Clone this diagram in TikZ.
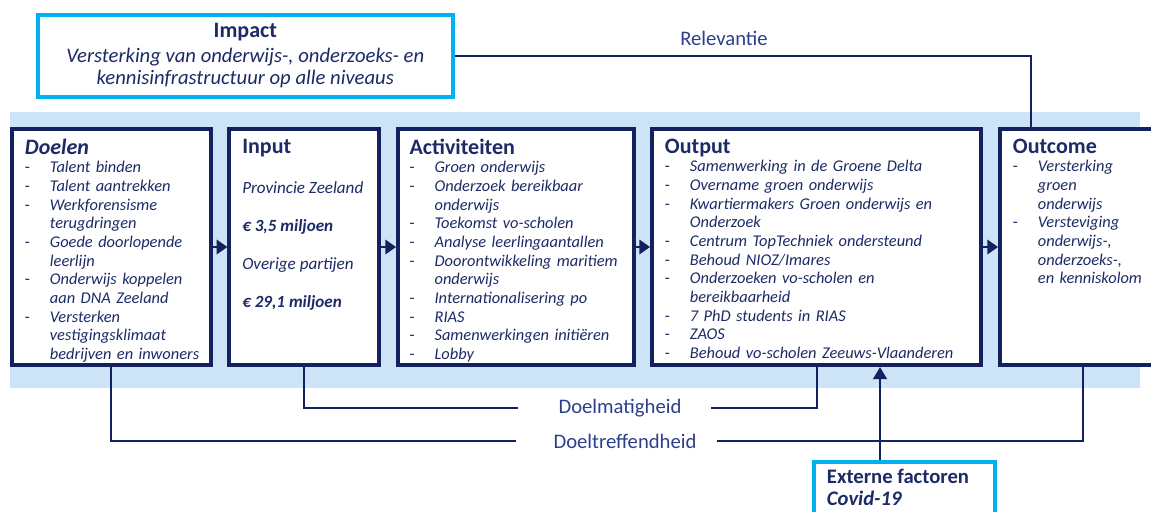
\documentclass[tikz,border=0pt]{standalone}
\usepackage{fontspec}
\setmainfont{Carlito}
\usetikzlibrary{positioning,arrows.meta,calc}

\definecolor{navy}{HTML}{13225E}
\definecolor{navytext}{HTML}{1C2B66}
\definecolor{labelblue}{HTML}{2B3F8C}
\definecolor{bandblue}{HTML}{CDE3F8}
\definecolor{brightcyan}{HTML}{00B0F0}

\newcommand{\kop}[1]{{\fontsize{16.5}{14}\selectfont\bfseries #1}}
\newcommand{\itm}[1]{\par\noindent\hangindent=18.75pt\hangafter=1\makebox[18.75pt][l]{-}\textit{#1}\par}

\begin{document}
\begin{tikzpicture}[x=0.75pt,y=-0.75pt,
  box/.style={draw=navy, line width=3pt, fill=white, minimum height=177pt, anchor=north west},
  cyanbox/.style={draw=brightcyan, line width=3pt, fill=white, anchor=north west},
  txt/.style={inner sep=0pt, align=left, text=navytext, font=\fontsize{12.3}{14}\selectfont},
  lbl/.style={text=labelblue, font=\fontsize{15.5}{16}\selectfont, inner xsep=0pt},
  link/.style={draw=navy, line width=1.5pt},
  flow/.style={-{Triangle[length=8pt,width=11pt]}, draw=navy, fill=navy, line width=1pt}]
  \clip (0,0) rectangle (1151,511);

  % light band behind the chain
  \fill[bandblue] (10,112) rectangle (1140,388);

  \node[box, minimum width=149pt](doelen) at (10,127){};
  \node[box, minimum width=112.5pt, right=11pt of doelen](input){};
  \node[box, minimum width=177pt, right=11pt of input](act){};
  \node[box, minimum width=247pt, right=10.5pt of act](output){};
  \node[box, minimum width=125pt, right=11pt of output](outcome){};

  \node[txt, text width=145pt, below right=8.5pt and 11pt of doelen.north west](doelenTxt){%
    \kop{\itshape Doelen}
    \itm{Talent binden}
    \itm{Talent aantrekken}
    \itm{Werkforensisme\newline terugdringen}
    \itm{Goede doorlopende\newline leerlijn}
    \itm{Onderwijs koppelen\newline aan DNA Zeeland}
    \itm{Versterken\newline vestigingsklimaat\newline bedrijven en inwoners}};
  \node[txt, font=\fontsize{12.8}{14}\selectfont, below right=9pt and 11pt of input.north west](inputTxt){%
    \kop{Input}\\[16pt]
    \textit{Provincie Zeeland}\\[14.5pt]
    \textbf{\textit{€ 3,5 miljoen}}\\[14.5pt]
    \textit{Overige partijen}\\[14.5pt]
    \textbf{\textit{€ 29,1 miljoen}}};
  \node[txt, text width=175pt, below right=8.5pt and 10pt of act.north west](actTxt){%
    \kop{Activiteiten}
    \itm{Groen onderwijs}
    \itm{Onderzoek bereikbaar\newline onderwijs}
    \itm{Toekomst vo-scholen}
    \itm{Analyse leerlingaantallen}
    \itm{Doorontwikkeling maritiem\newline onderwijs}
    \itm{Internationalisering po}
    \itm{RIAS}
    \itm{Samenwerkingen initiëren}
    \itm{Lobby}};
  \node[txt, text width=240pt, below right=8.5pt and 11pt of output.north west](outputTxt){%
    \kop{Output}
    \itm{Samenwerking in de Groene Delta}
    \itm{Overname groen onderwijs}
    \itm{Kwartiermakers Groen onderwijs en\newline Onderzoek}
    \itm{Centrum TopTechniek ondersteund}
    \itm{Behoud NIOZ/Imares}
    \itm{Onderzoeken vo-scholen en\newline bereikbaarheid}
    \itm{7 PhD students in RIAS}
    \itm{ZAOS}
    \itm{Behoud vo-scholen Zeeuws-Vlaanderen}};
  \node[txt, text width=118pt, below right=8.5pt and 11pt of outcome.north west](outcomeTxt){%
    \kop{Outcome}
    \itm{Versterking\newline groen\newline onderwijs}
    \itm{Versteviging\newline onderwijs-,\newline onderzoeks-,\newline en kenniskolom}};

  \node[cyanbox, minimum width=311pt, minimum height=61.5pt, align=center, text=navytext,
    font=\fontsize{15.5}{16.5}\selectfont](impact) at (36,13){%
    \kop{Impact}\\[2.25pt]
    \textit{Versterking van onderwijs-, onderzoeks- en}\\
    \textit{kennisinfrastructuur op alle niveaus}};
  \node[cyanbox, minimum width=136pt, minimum height=60pt](ext) at (812,460){};
  \node[txt, font=\fontsize{15.5}{16.5}\selectfont\bfseries, below right=7pt and 11pt of ext.north west](extTxt){%
    Externe factoren\\
    \textit{Covid-19}};

  \node[lbl](relevantie) at (724,38){Relevantie};
  \node[lbl](doelm) at (620,408){Doelmatigheid};
  \node[lbl](doeltr) at (625,441){Doeltreffendheid};
  \coordinate (extTop) at ($(ext.north west)+(68,0)$);

  \path[flow]
  (doelen) edge (input)
  (input) edge (act)
  (act) edge (output)
  (output) edge (outcome);

  \draw[link] (impact.east) -| ($(outcome.north west)+(33,0)$);
  \draw[link, shorten >=30pt] (input.south) |- (doelm.west);
  \draw[link, shorten <=22pt] (doelm.east) -| (output.south);
  \draw[link, shorten >=28pt] (doelen.south) |- (doeltr.west);
  \draw[link, shorten <=15pt] (doeltr.east) -| (outcome.south);
  \draw[navy, line width=2.2pt, -{Triangle[length=9pt,width=10pt]}]
    (extTop) -- (extTop |- output.south);
\end{tikzpicture}
\end{document}
